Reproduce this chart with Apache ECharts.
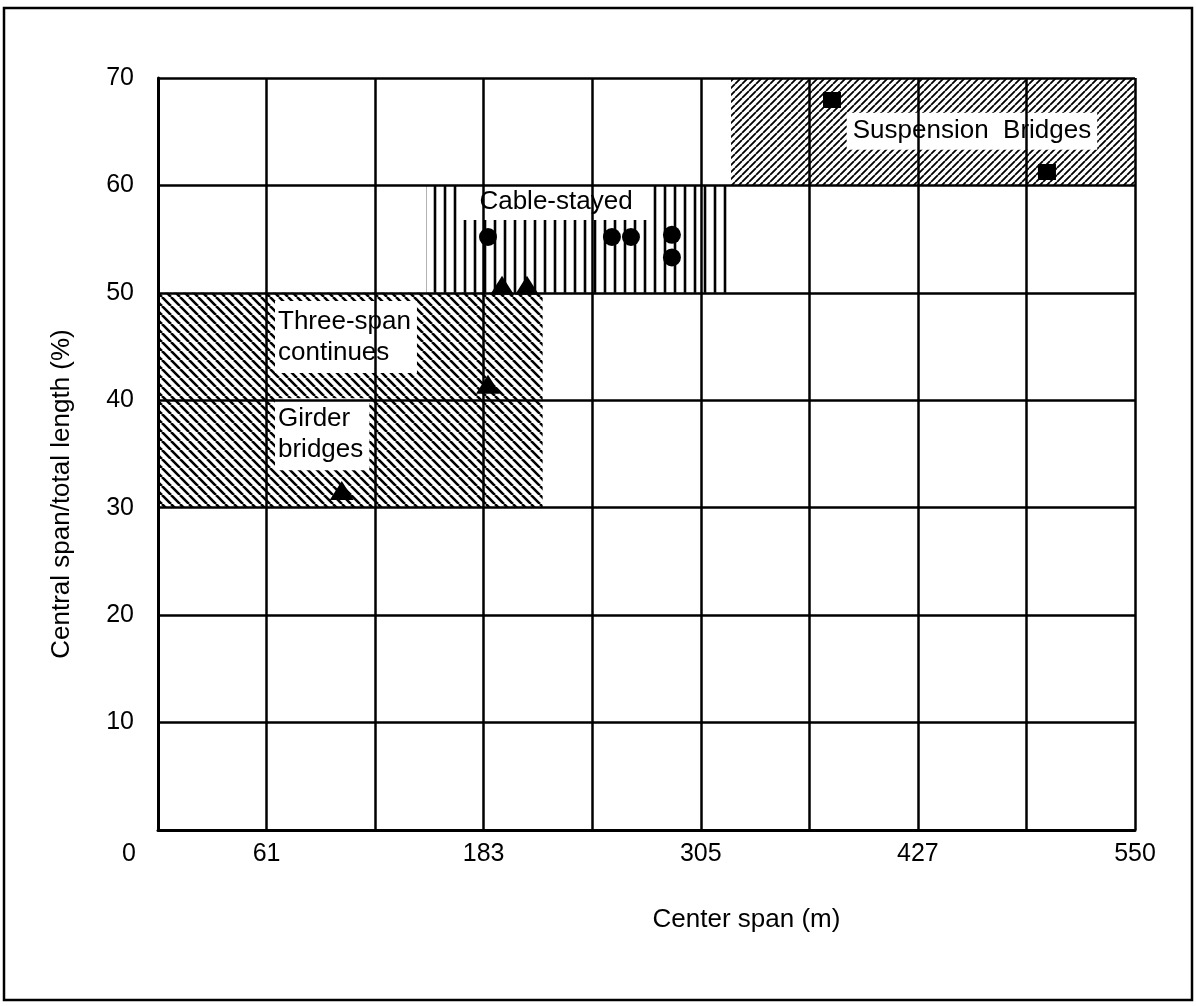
<!DOCTYPE html>
<html><head><meta charset="utf-8">
<script src="https://cdn.jsdelivr.net/npm/echarts@6/dist/echarts.min.js"></script>
<style>html,body{margin:0;padding:0;background:#fff}#c{width:1196px;height:1006px}</style>
</head><body><div id="c"></div>
<script>
// ---- data ----
const xTickLabels = ['0', '61', '', '183', '', '305', '', '427', '', '550'];
const xStep = 60.96;            // 200 ft
const xMax = 548.64;            // 1800 ft
const yTickLabels = ['', '10', '20', '30', '40', '50', '60', '70'];

const regionNames = ['Girder / three-span', 'Cable-stayed', 'Suspension'];
const regionX0 = [0, 150.5, 321.8];
const regionX1 = [216, 322.9, 548.64];
const regionY0 = [30, 50, 60];
const regionY1 = [50, 60, 70];
const regionHatch = ['back', 'vert', 'fwd'];

const labelTexts = ['Three-span\ncontinues', 'Girder\nbridges', 'Cable-stayed', 'Suspension  Bridges'];
const labelX = [65.7, 65.7, 223.5, 457.1];
const labelY = [45.9, 36.85, 58.45, 65.05];

const girderPts = [[103.2, 31.6], [185.3, 41.5], [193.2, 50.7], [207.2, 50.7]];
const cablePts = [[185.3, 55.2], [254.9, 55.2], [265.6, 55.2], [288.6, 55.4], [288.6, 53.3]];
const suspPts = [[378.5, 67.95], [499.2, 61.25]];

// ---- patterns ----
function hatch(kind, s, lw) {
  const c = document.createElement('canvas');
  c.width = s; c.height = s;
  const g = c.getContext('2d');
  g.strokeStyle = '#000'; g.lineWidth = lw; g.beginPath();
  if (kind === 'vert') { g.moveTo(s / 2, 0); g.lineTo(s / 2, s); }
  else {
    for (const k of [-1, 0, 1]) {
      if (kind === 'back') { g.moveTo(k * s, 0); g.lineTo(k * s + s, s); }
      else { g.moveTo(k * s, s); g.lineTo(k * s + s, 0); }
    }
  }
  g.stroke();
  return c;
}
const patternOf = {
  back: { image: hatch('back', 9, 2.6), repeat: 'repeat' },
  vert: { image: hatch('vert', 10, 2.6), repeat: 'repeat' },
  fwd: { image: hatch('fwd', 7, 1.8), repeat: 'repeat' }
};

const regionData = regionNames.map((n, i) => [regionX0[i], regionX1[i], regionY0[i], regionY1[i]]);
const labelData = labelTexts.map((t, i) => [labelX[i], labelY[i]]);

const FONT = '"Liberation Sans", Arial, Helvetica, sans-serif';
const chart = echarts.init(document.getElementById('c'), null, { renderer: 'canvas' });
chart.setOption({
  animation: false,
  backgroundColor: '#fff',
  grid: { left: 158, right: 61, top: 78, bottom: 176, containLabel: false },
  xAxis: {
    type: 'value', min: 0, max: xMax, interval: xStep, z: 10,
    name: 'Center span (m)', nameLocation: 'middle', nameGap: 77,
    nameTextStyle: { fontFamily: FONT, fontSize: 26, color: '#000', padding: [0, 0, 0, 200] },
    axisLine: { show: true, lineStyle: { color: '#000', width: 3 } },
    axisTick: { show: false },
    splitLine: { show: true, lineStyle: { color: '#000', width: 2.5 } },
    axisLabel: {
      margin: 12, fontFamily: FONT, fontSize: 25, color: '#000',
      formatter: v => {
        const t = xTickLabels[Math.round(v / xStep)] || '';
        return v === 0 ? '{z|' + t + '}' : t;
      },
      rich: { z: { fontFamily: FONT, fontSize: 25, color: '#000', padding: [0, 58, 0, 0] } }
    }
  },
  yAxis: {
    type: 'value', min: 0, max: 70, interval: 10, z: 10,
    name: 'Central span/total length (%)', nameLocation: 'middle', nameGap: 83,
    nameTextStyle: { fontFamily: FONT, fontSize: 26, color: '#000', padding: [0, 80, 0, 0] },
    axisLine: { show: true, lineStyle: { color: '#000', width: 3 } },
    axisTick: { show: false },
    splitLine: { show: true, lineStyle: { color: '#000', width: 2.5 } },
    axisLabel: {
      margin: 24, fontFamily: FONT, fontSize: 25, color: '#000',
      formatter: v => yTickLabels[Math.round(v / 10)] || ''
    }
  },
  graphic: [{
    type: 'rect', shape: { x: 4, y: 8, width: 1188, height: 992 },
    style: { fill: 'none', stroke: '#000', lineWidth: 2.5 }, z: 100
  }],
  series: [
    {
      type: 'custom', z: 1, data: regionData,
      renderItem: (params, api) => {
        const p0 = api.coord([api.value(0), api.value(3)]);
        const p1 = api.coord([api.value(1), api.value(2)]);
        return {
          type: 'rect',
          shape: { x: p0[0], y: p0[1], width: p1[0] - p0[0], height: p1[1] - p0[1] },
          style: { fill: patternOf[regionHatch[params.dataIndex]] }
        };
      }
    },
    {
      type: 'custom', z: 3, data: labelData,
      renderItem: (params, api) => {
        const i = params.dataIndex;
        const p = api.coord([api.value(0), api.value(1)]);
        const left = i < 2;
        const pads = [[4, 6, 6, 3], [4, 6, 6, 3], [0, 18, 5, 18], [2, 6, 4, 6]];
        return {
          type: 'text', x: p[0], y: p[1],
          style: {
            text: labelTexts[i], fill: '#000',
            font: '26px ' + FONT, lineHeight: 31,
            align: left ? 'left' : 'center', verticalAlign: 'middle',
            backgroundColor: '#fff', padding: pads[i]
          }
        };
      }
    },
    { type: 'scatter', z: 4, symbol: 'triangle', symbolSize: [24, 19], itemStyle: { color: '#000', opacity: 1 }, data: girderPts },
    { type: 'scatter', z: 4, symbol: 'circle', symbolSize: 18, itemStyle: { color: '#000', opacity: 1 }, data: cablePts },
    { type: 'scatter', z: 4, symbol: 'rect', symbolSize: [18, 16], itemStyle: { color: '#000', opacity: 1 }, data: suspPts }
  ]
});
</script>
</body></html>
